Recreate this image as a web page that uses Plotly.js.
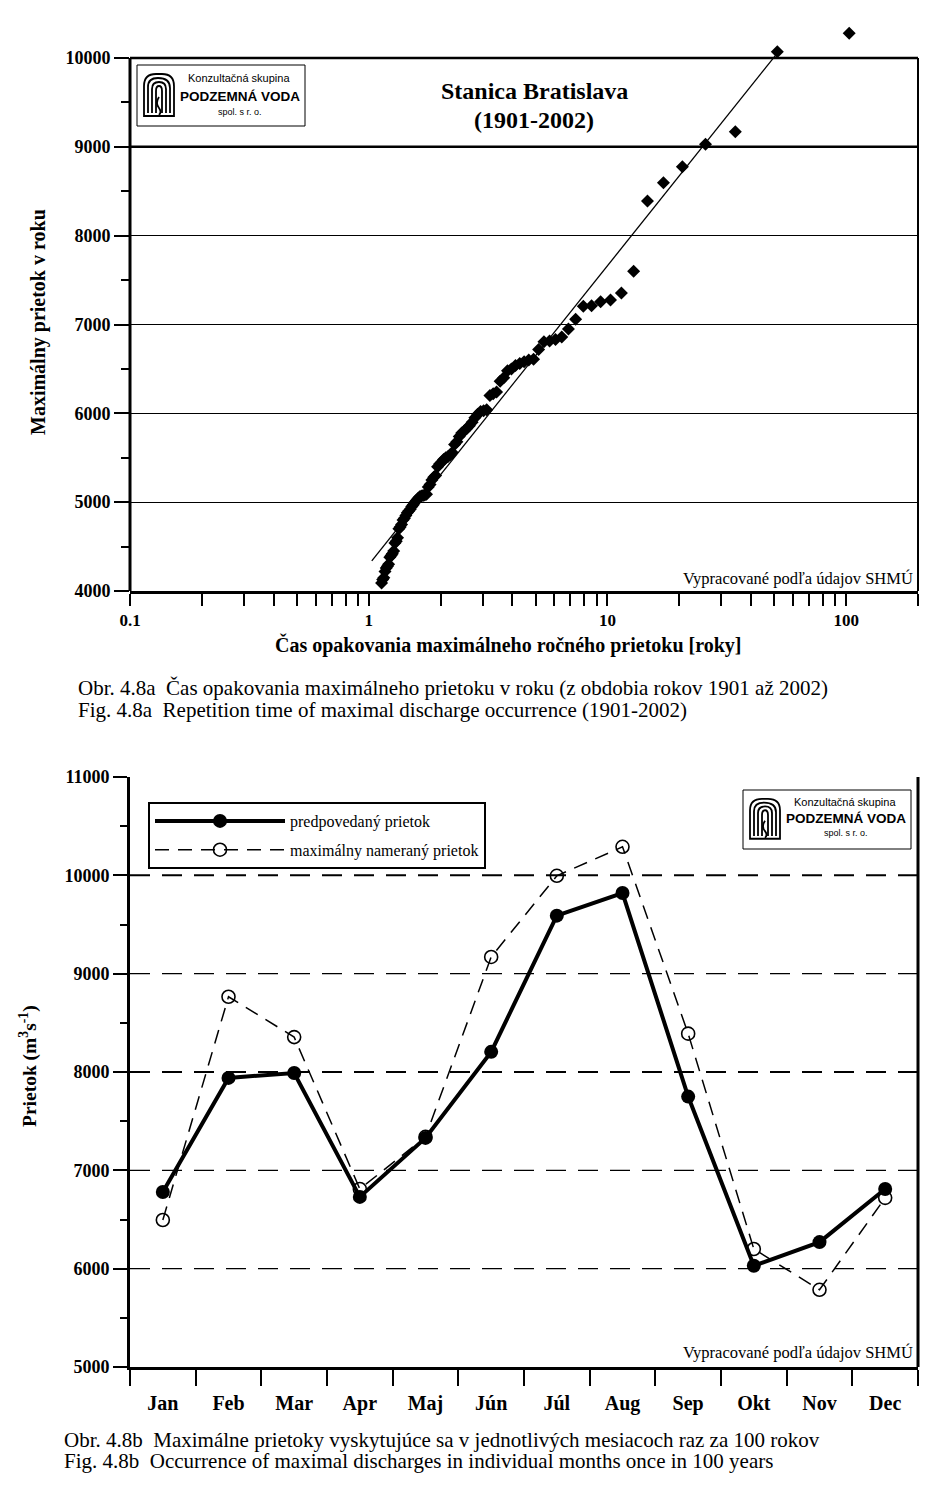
<!DOCTYPE html>
<html>
<head>
<meta charset="utf-8">
<script src="https://cdn.plot.ly/plotly-3.0.1.min.js"></script>
<style>html,body{margin:0;padding:0;background:#fff;}#chart{width:948px;height:1500px;}</style>
</head>
<body>
<div id="chart"></div>
<script>
// ---- Fig 4.8a: return period vs. annual maximum discharge ----
var retT = [103, 51.5, 34.333, 25.75, 20.6, 17.167, 14.714, 12.875, 11.444, 10.3,
  9.364, 8.583, 7.923, 7.357, 6.867, 6.438, 6.059, 5.722, 5.421, 5.15,
  4.905, 4.682, 4.478, 4.292, 4.12, 3.962, 3.815, 3.679, 3.552, 3.433,
  3.323, 3.219, 3.121, 3.029, 2.943, 2.861, 2.784, 2.711, 2.641, 2.575,
  2.512, 2.452, 2.395, 2.341, 2.289, 2.239, 2.191, 2.146, 2.102, 2.06,
  2.02, 1.981, 1.943, 1.907, 1.873, 1.839, 1.807, 1.776, 1.746, 1.717,
  1.689, 1.661, 1.635, 1.609, 1.585, 1.561, 1.537, 1.515, 1.493, 1.471,
  1.451, 1.431, 1.411, 1.392, 1.373, 1.355, 1.338, 1.321, 1.304, 1.288,
  1.272, 1.256, 1.241, 1.226, 1.212, 1.198, 1.184, 1.170, 1.157, 1.144, 1.132];
var retQ = [10280, 10070, 9170, 9030, 8775, 8595, 8390, 7600, 7355, 7275,
  7255, 7210, 7205, 7060, 6950, 6860, 6830, 6815, 6805, 6720,
  6610, 6600, 6580, 6560, 6540, 6500, 6480, 6400, 6360, 6240,
  6220, 6200, 6040, 6030, 6020, 5990, 5950, 5900, 5860, 5830,
  5800, 5780, 5740, 5680, 5650, 5560, 5530, 5510, 5500, 5480,
  5450, 5430, 5400, 5300, 5280, 5250, 5200, 5170, 5090, 5080,
  5075, 5070, 5060, 5040, 5020, 5000, 4970, 4950, 4920, 4900,
  4880, 4850, 4820, 4800, 4750, 4720, 4700, 4600, 4560, 4540,
  4450, 4420, 4400, 4380, 4300, 4280, 4260, 4220, 4150, 4130, 4090];
var fitT = [1.03, 52];
var fitQ = [4340, 10070];
var topYTicks = [4000, 5000, 6000, 7000, 8000, 9000, 10000];
var topGridHeavy = [9000];

// ---- Fig 4.8b: monthly maxima once in 100 years ----
var months = ['Jan','Feb','Mar','Apr','Maj','Jún','Júl','Aug','Sep','Okt','Nov','Dec'];
var predicted = [6780, 7940, 7990, 6730, 7330, 8205, 9590, 9820, 7750, 6030, 6270, 6810];
var measured  = [6495, 8765, 8355, 6810, 7340, 9170, 9995, 10290, 8390, 6200, 5785, 6720];
var bottomGrid = [6000, 7000, 8000, 9000, 10000];
var bottomGridHeavy = [8000, 10000];

var W = 948, H = 1500;
function px(x){ return x / W; }
function py(y){ return 1 - y / H; }
var SERIF = 'Liberation Serif, Times New Roman, serif';
var SANS = 'Liberation Sans, Arial, sans-serif';

// logo icon outline (local 36 x 48 drawing units)
var iconCmds = [
  [['M',3,45],['L',3,15],['Q',3,3,15,3],['L',21,3],['Q',33,3,33,15],['L',33,45],['Z']],
  [['M',7,42],['L',7,16],['Q',7,7,17,7],['Q',29,7,29,17],['L',29,42]],
  [['M',11,42],['L',11,18],['Q',11,11,18,11],['Q',25,11,25,18],['L',25,42]],
  [['M',15,42],['L',15,20],['Q',15,15,18,15],['Q',21,15,21,20],['L',21,42]],
  [['M',18,26],['Q',14,32,18,37],['Q',21,41,18,44]]
];
function iconShapes(ox, oy, sx, sy) {
  return iconCmds.map(function (cmds) {
    var d = cmds.map(function (c) {
      var s = c[0];
      for (var i = 1; i < c.length; i += 2) {
        s += ' ' + px(ox + c[i] * sx).toFixed(6) + ',' + py(oy + c[i + 1] * sy).toFixed(6);
      }
      return s;
    }).join(' ');
    return { type: 'path', xref: 'paper', yref: 'paper', path: d,
      line: { color: 'black', width: 1.8 }, layer: 'above' };
  });
}

var traces = [
  { x: retT, y: retQ, type: 'scatter', mode: 'markers', xaxis: 'x', yaxis: 'y',
    marker: { symbol: 'diamond', size: 10, color: 'black' }, cliponaxis: false, showlegend: false },
  { x: fitT, y: fitQ, type: 'scatter', mode: 'lines', xaxis: 'x', yaxis: 'y',
    line: { color: 'black', width: 1.3 }, showlegend: false },
  { x: months, y: measured, type: 'scatter', mode: 'lines+markers', xaxis: 'x2', yaxis: 'y2',
    name: 'maximálny nameraný prietok', legendgroup: 'b', legendrank: 2,
    line: { color: 'black', width: 1.5, dash: '14px,9px' },
    marker: { symbol: 'circle-open', size: 13, color: 'black', line: { width: 1.6, color: 'black' } },
    cliponaxis: false },
  { x: months, y: predicted, type: 'scatter', mode: 'lines+markers', xaxis: 'x2', yaxis: 'y2',
    name: 'predpovedaný prietok', legendgroup: 'a', legendrank: 1,
    line: { color: 'black', width: 4 },
    marker: { symbol: 'circle', size: 14, color: 'black' }, cliponaxis: false }
];

var shapes = [
  // top chart frame (left, top, right) limited to 4000-10000
  { type: 'line', xref: 'x domain', yref: 'y', x0: 0, x1: 0, y0: 4000, y1: 10000, line: { color: 'black', width: 3 } },
  { type: 'line', xref: 'x domain', yref: 'y', x0: 0, x1: 1, y0: 10000, y1: 10000, line: { color: 'black', width: 2.5 } },
  { type: 'line', xref: 'x domain', yref: 'y', x0: 1, x1: 1, y0: 4000, y1: 10000, line: { color: 'black', width: 2 } },
  // bottom chart right frame
  { type: 'line', xref: 'x2 domain', yref: 'y2 domain', x0: 1, x1: 1, y0: 0, y1: 1, line: { color: 'black', width: 3 } },
  // logo boxes
  { type: 'rect', xref: 'paper', yref: 'paper', x0: px(137), x1: px(305), y0: py(126), y1: py(65), line: { color: 'black', width: 1 }, fillcolor: 'white', layer: 'above' },
  { type: 'rect', xref: 'paper', yref: 'paper', x0: px(743), x1: px(911), y0: py(849), y1: py(790), line: { color: 'black', width: 1 }, fillcolor: 'white', layer: 'above' }
];
topGridHeavy.forEach(function (v) {
  shapes.push({ type: 'line', xref: 'x domain', yref: 'y', x0: 0, x1: 1, y0: v, y1: v, line: { color: 'black', width: 2.5 }, layer: 'below' });
});
bottomGrid.forEach(function (v) {
  var heavy = bottomGridHeavy.indexOf(v) >= 0;
  shapes.push({ type: 'line', xref: 'x2 domain', yref: 'y2', x0: 0, x1: 1, y0: v, y1: v,
    line: { color: 'black', width: heavy ? 2 : 1.2, dash: '20px,12px' }, layer: 'below' });
});
shapes = shapes.concat(iconShapes(141, 71, 1.0, 1.0), iconShapes(747, 796, 1.0, 0.95));

function ann(text, x, y, size, opts) {
  var a = { text: text, xref: 'paper', yref: 'paper', x: px(x), y: py(y), showarrow: false,
    font: { family: SERIF, size: size, color: 'black' }, xanchor: 'center', yanchor: 'middle' };
  for (var k in (opts || {})) a[k] = opts[k];
  return a;
}
function sans(size) { return { family: SANS, size: size, color: 'black' }; }

var annotations = [
  ann('<b>Stanica Bratislava</b>', 534, 91, 24),
  ann('<b>(1901-2002)</b>', 534, 120, 24),
  ann('<b>Čas opakovania maximálneho ročného prietoku [roky]</b>', 508, 645, 20),
  ann('<b>Maximálny prietok v roku</b>', 38, 322, 20, { textangle: -90 }),
  ann('Vypracované podľa údajov SHMÚ', 915, 578, 16.5, { xanchor: 'right' }),
  ann('Obr. 4.8a  Čas opakovania maximálneho prietoku v roku (z obdobia rokov 1901 až 2002)', 76, 688, 21, { xanchor: 'left' }),
  ann('Fig. 4.8a  Repetition time of maximal discharge occurrence (1901-2002)', 76, 710, 21, { xanchor: 'left' }),
  ann('<b>Prietok (m<sup>3</sup>s<sup>-1</sup>)</b>', 28, 1066, 19.5, { textangle: -90 }),
  ann('Vypracované podľa údajov SHMÚ', 915, 1352, 16.5, { xanchor: 'right' }),
  ann('Obr. 4.8b  Maximálne prietoky vyskytujúce sa v jednotlivých mesiacoch raz za 100 rokov', 62, 1440, 21, { xanchor: 'left' }),
  ann('Fig. 4.8b  Occurrence of maximal discharges in individual months once in 100 years', 62, 1461, 21, { xanchor: 'left' }),
  // logos
  ann('Konzultačná skupina', 239, 78, 11, { font: sans(11) }),
  ann('<b>PODZEMNÁ VODA</b>', 240, 96, 13.5, { font: sans(13.5) }),
  ann('spol. s r. o.', 240, 112, 9, { font: sans(9) }),
  ann('Konzultačná skupina', 845, 802, 11, { font: sans(11) }),
  ann('<b>PODZEMNÁ VODA</b>', 846, 818, 13.5, { font: sans(13.5) }),
  ann('spol. s r. o.', 846, 833, 9, { font: sans(9) })
];

var layout = {
  width: W, height: H,
  margin: { l: 0, r: 0, t: 0, b: 0 },
  paper_bgcolor: 'white', plot_bgcolor: 'rgba(0,0,0,0)',
  showlegend: true,
  legend: {
    x: px(148), y: py(802), xanchor: 'left', yanchor: 'top',
    bordercolor: 'black', borderwidth: 2, bgcolor: 'white',
    font: { family: SERIF, size: 16, color: 'black' },
    traceorder: 'grouped', tracegroupgap: 5, itemwidth: 130
  },
  xaxis: {
    domain: [px(130), px(918)], anchor: 'y', type: 'log',
    range: [-1, Math.log10(200)], dtick: 1,
    ticks: 'outside', ticklen: 12, tickwidth: 2, tickcolor: 'black',
    showline: true, linewidth: 3, linecolor: 'black', showgrid: false, zeroline: false,
    minor: { dtick: 'D1', ticks: 'outside', ticklen: 12, tickwidth: 2, tickcolor: 'black', showgrid: false },
    tickfont: { family: SERIF, size: 17, color: 'black', weight: 'bold' }
  },
  yaxis: {
    domain: [py(591), py(22.5)], anchor: 'x',
    range: [4000, 10400], tickmode: 'array', tickvals: topYTicks, tickformat: 'd',
    ticks: 'outside', ticklen: 15, tickwidth: 2, tickcolor: 'black',
    showline: false,
    showgrid: true, gridcolor: 'black', gridwidth: 1, zeroline: false,
    minor: { tickmode: 'linear', tick0: 4000, dtick: 500, ticks: 'outside', ticklen: 8, tickwidth: 2, tickcolor: 'black', showgrid: false },
    tickfont: { family: SERIF, size: 18, color: 'black', weight: 'bold' }
  },
  xaxis2: {
    domain: [px(130), px(918)], anchor: 'y2', type: 'category',
    categoryorder: 'array', categoryarray: months,
    range: [-0.5, 11.5], tickson: 'boundaries',
    ticks: 'outside', ticklen: 16, tickwidth: 2, tickcolor: 'black', ticklabelstandoff: 16,
    showline: true, linewidth: 3, linecolor: 'black', showgrid: false, zeroline: false,
    tickfont: { family: SERIF, size: 20, color: 'black', weight: 'bold' }
  },
  yaxis2: {
    domain: [py(1367), py(777)], anchor: 'x2',
    range: [5000, 11000], tick0: 5000, dtick: 1000, tickformat: 'd',
    ticks: 'outside', ticklen: 14, tickwidth: 2, tickcolor: 'black',
    showline: true, linewidth: 3, linecolor: 'black', showgrid: false, zeroline: false,
    minor: { dtick: 500, ticks: 'outside', ticklen: 7, tickwidth: 2, tickcolor: 'black', showgrid: false },
    tickfont: { family: SERIF, size: 18, color: 'black', weight: 'bold' }
  },
  shapes: shapes,
  annotations: annotations
};

Plotly.newPlot('chart', traces, layout, { staticPlot: true, displayModeBar: false });
</script>
</body>
</html>
